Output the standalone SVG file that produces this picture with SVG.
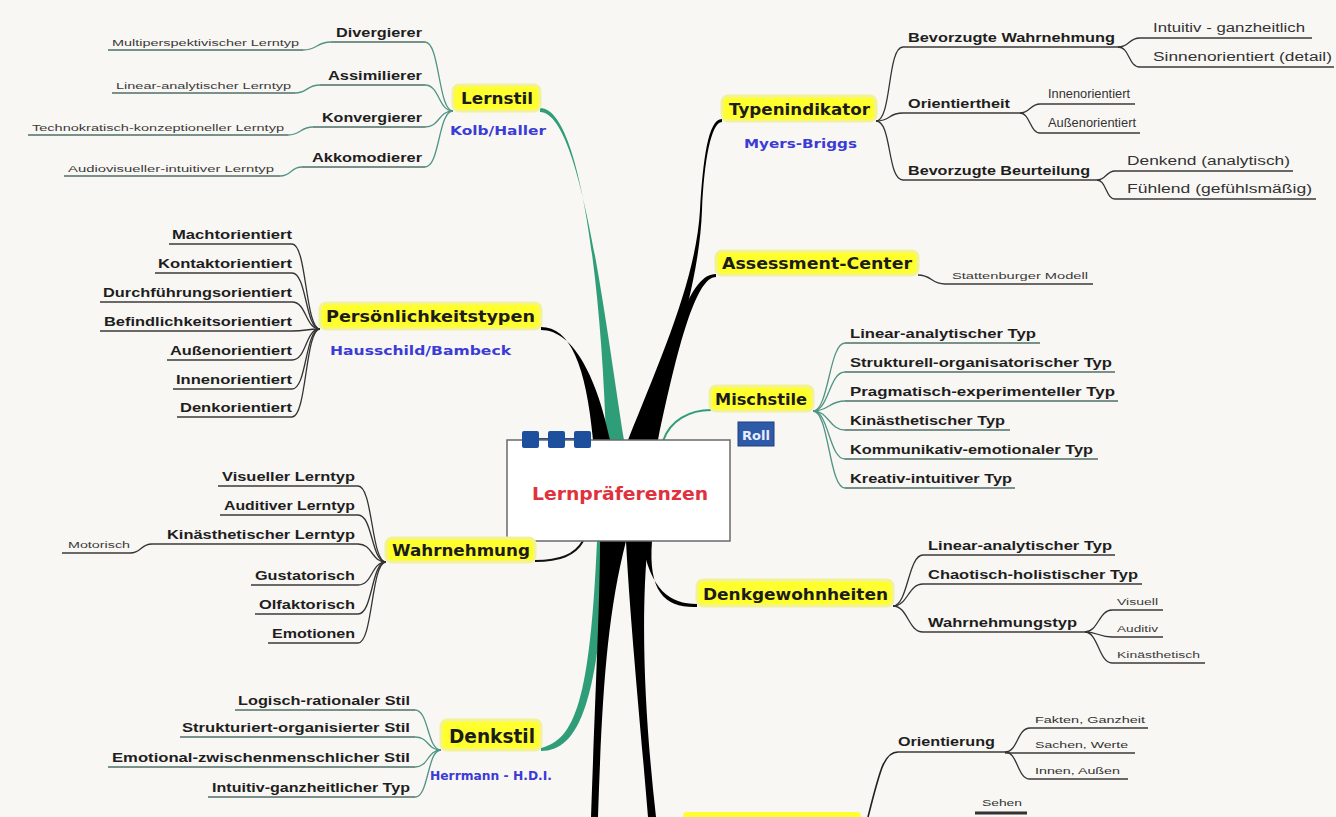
<svg xmlns="http://www.w3.org/2000/svg" width="1336" height="817" viewBox="0 0 1336 817">
<style>
.lbl{font-family:"DejaVu Sans",Verdana,sans-serif;font-weight:bold;fill:#1c1c1c;font-size:16px}
.blue{font-family:"DejaVu Sans",Verdana,sans-serif;font-weight:bold;fill:#3b3bd6;font-size:13px}
.ch{font-family:"Liberation Sans",Arial,sans-serif;font-weight:bold;fill:#1e1e1e;font-size:13.5px}
.gc{font-family:"Liberation Sans",Arial,sans-serif;fill:#333;font-size:12.5px}
.sm{font-family:"Liberation Sans",Arial,sans-serif;fill:#3a3a3a;font-size:8.5px}
.ul{stroke:#3a3a3a;stroke-width:1.6;fill:none}
.ulg{stroke:#4f6f68;stroke-width:1.6;fill:none}
.cn{fill:none;stroke:#333;stroke-width:1.3}
.cng{fill:none;stroke:#4f9484;stroke-width:1.3}
.yl{fill:#ffff2e;stroke:#f2f29a;stroke-width:3}
.blk{fill:#000}
.grn{fill:#2f9e78}
</style>
<rect x="0" y="0" width="1336" height="817" fill="#f9f7f4"/>

<g id="connectors">
  <!-- main branches from the central topic -->
  <path class="grn" d="M540,108 C582,108 602,300 606,440 L624,440 C606,330 582,112 540,112 Z"/>
  <path class="blk" d="M541,327 C570,327 586,365 593,440 L610,440 C598,382 575,330 541,330 Z"/>
  <path class="blk" d="M722,119 C708,119 703,160 700,210 C696,280 660,360 628,440 L648,440 C668,370 699,290 702,210 C704,162 711,122 722,122 Z"/>
  <path class="blk" d="M716,274 C690,274 675,330 640,440 L658,440 C678,345 696,277 716,277 Z"/>
  <path d="M711,410 C690,410 670,420 663,441" fill="none" stroke="#2f9e78" stroke-width="2"/>
  <path d="M535,561 C560,561 575,555 583,541" fill="none" stroke="#111" stroke-width="2"/>
  <path class="grn" d="M541,748 C575,740 590,700 597,541 L607,541 C599,700 580,751 541,751 Z"/>
  <path class="blk" d="M600,541 C600,600 595,700 591,817 L598,817 C602,700 606,620 626,541 Z"/>
  <path class="blk" d="M626,541 C630,620 640,720 648,817 L656,817 C645,720 640,620 648,541 Z"/>
  <path class="blk" d="M642,541 C650,590 670,604 697,604 L697,607 C665,608 648,592 652,541 Z"/>
  <path d="M868,817 C880,770 884,752 898,752" fill="none" stroke="#222" stroke-width="1.6"/>

  <!-- Lernstil -->
  <path class="cng" d="M453,111 C438,111 440,42 425,42"/>
  <path class="cng" d="M453,111 C438,111 440,85 425,85"/>
  <path class="cng" d="M453,111 C438,111 440,127 425,127"/>
  <path class="cng" d="M453,111 C438,111 440,167 425,167"/>
  <path class="cng" d="M331,42 C316,42 318,50 303,50"/>
  <path class="cng" d="M320,85 C306,85 308,93 295,93"/>
  <path class="cng" d="M313,127 C300,127 301,135 288,135"/>
  <path class="cng" d="M302,167 C290,167 292,176 280,176"/>

  <!-- Persoenlichkeitstypen -->
  <path class="cn" d="M320,329 C305,329 307,244 292,244"/>
  <path class="cn" d="M320,329 C305,329 307,273 292,273"/>
  <path class="cn" d="M320,329 C305,329 307,302 292,302"/>
  <path class="cn" d="M320,329 C305,329 307,331 292,331"/>
  <path class="cn" d="M320,329 C305,329 307,360 292,360"/>
  <path class="cn" d="M320,329 C305,329 307,389 292,389"/>
  <path class="cn" d="M320,329 C305,329 307,417 292,417"/>

  <!-- Wahrnehmung -->
  <path class="cn" d="M386,562 C371,562 373,486 358,486"/>
  <path class="cn" d="M386,562 C371,562 373,515 358,515"/>
  <path class="cn" d="M386,562 C371,562 373,544 358,544"/>
  <path class="cn" d="M386,562 C371,562 373,585 358,585"/>
  <path class="cn" d="M386,562 C371,562 373,614 358,614"/>
  <path class="cn" d="M386,562 C371,562 373,643 358,643"/>
  <path class="cn" d="M152,544 C140,544 142,553 130,553"/>

  <!-- Denkstil -->
  <path class="cng" d="M441,750 C427,750 429,710 415,710"/>
  <path class="cng" d="M441,750 C427,750 429,737 415,737"/>
  <path class="cng" d="M441,750 C427,750 429,767 415,767"/>
  <path class="cng" d="M441,750 C427,750 429,797 415,797"/>

  <!-- Typenindikator -->
  <path class="cn" d="M876,121 C892,121 887,47 903,47"/>
  <path class="cn" d="M876,121 C892,121 887,113 903,113"/>
  <path class="cn" d="M876,121 C892,121 887,180 903,180"/>
  <path class="cn" d="M1118,47 C1130,47 1128,38 1140,38"/>
  <path class="cn" d="M1118,47 C1130,47 1128,67 1140,67"/>
  <path class="cn" d="M1020,113 C1030,113 1030,104 1040,104"/>
  <path class="cn" d="M1020,113 C1030,113 1030,133 1040,133"/>
  <path class="cn" d="M1097,180 C1106,180 1106,171 1115,171"/>
  <path class="cn" d="M1097,180 C1106,180 1106,199 1115,199"/>

  <!-- Assessment-Center -->
  <path class="cn" d="M918,275 C932,275 931,284 945,284"/>

  <!-- Mischstile -->
  <path class="cng" d="M813,411 C829,411 829,343 845,343"/>
  <path class="cng" d="M813,411 C829,411 829,372 845,372"/>
  <path class="cng" d="M813,411 C829,411 829,401 845,401"/>
  <path class="cng" d="M813,411 C829,411 829,430 845,430"/>
  <path class="cng" d="M813,411 C829,411 829,459 845,459"/>
  <path class="cng" d="M813,411 C829,411 829,488 845,488"/>

  <!-- Denkgewohnheiten -->
  <path class="cn" d="M893,606 C908,606 908,555 923,555"/>
  <path class="cn" d="M893,606 C908,606 908,584 923,584"/>
  <path class="cn" d="M893,606 C908,606 908,632 923,632"/>
  <path class="cn" d="M1085,632 C1098,632 1099,610 1112,610"/>
  <path class="cn" d="M1085,632 C1098,632 1099,637 1112,637"/>
  <path class="cn" d="M1085,632 C1098,632 1099,663 1112,663"/>

  <!-- Orientierung -->
  <path class="cn" d="M1005,752 C1018,752 1017,728 1030,728"/>
  <path class="cn" d="M1005,752 C1018,752 1017,779 1030,779"/>
</g>

<!-- central topic -->
<g id="center">
  <line x1="531" y1="439" x2="583" y2="439" stroke="#1e4f9c" stroke-width="2"/>
  <rect x="507" y="440" width="223" height="101" fill="#ffffff" stroke="#6a6a6a" stroke-width="1.5"/>
  <rect x="522" y="431" width="17" height="17" rx="2" fill="#1e4f9c"/>
  <rect x="548" y="431" width="17" height="17" rx="2" fill="#1e4f9c"/>
  <rect x="574" y="431" width="17" height="17" rx="2" fill="#1e4f9c"/>
  <text x="532" y="500" textLength="176" lengthAdjust="spacingAndGlyphs" style="font-family:'DejaVu Sans',Verdana,sans-serif;font-weight:bold;font-size:18px;fill:#e0323e">Lernpräferenzen</text>
</g>

<!-- Lernstil -->
<g id="lernstil">
  <rect class="yl" x="453" y="85" width="87" height="26" rx="6"/>
  <text class="lbl" x="461" y="104" textLength="72" lengthAdjust="spacingAndGlyphs">Lernstil</text>
  <text class="blue" x="450" y="135" textLength="96" lengthAdjust="spacingAndGlyphs">Kolb/Haller</text>
</g>
<g id="divergierer"><text class="ch" x="422" y="37" text-anchor="end" textLength="86" lengthAdjust="spacingAndGlyphs" style="font-size:12.5px">Divergierer</text><line class="ulg" x1="331" y1="42" x2="425" y2="42"/></g>
<g id="multiperspektivisch"><text class="sm" x="112" y="46" textLength="187" lengthAdjust="spacingAndGlyphs">Multiperspektivischer Lerntyp</text><line class="ulg" x1="108" y1="50" x2="303" y2="50"/></g>
<g id="assimilierer"><text class="ch" x="422" y="80" text-anchor="end" textLength="94" lengthAdjust="spacingAndGlyphs" style="font-size:12.5px">Assimilierer</text><line class="ulg" x1="320" y1="85" x2="425" y2="85"/></g>
<g id="linear-lerntyp"><text class="sm" x="116" y="89" textLength="175" lengthAdjust="spacingAndGlyphs">Linear-analytischer Lerntyp</text><line class="ulg" x1="112" y1="93" x2="295" y2="93"/></g>
<g id="konvergierer"><text class="ch" x="422" y="122" text-anchor="end" textLength="100" lengthAdjust="spacingAndGlyphs" style="font-size:12.5px">Konvergierer</text><line class="ulg" x1="313" y1="127" x2="425" y2="127"/></g>
<g id="technokratisch"><text class="sm" x="32" y="131" textLength="252" lengthAdjust="spacingAndGlyphs">Technokratisch-konzeptioneller Lerntyp</text><line class="ulg" x1="28" y1="135" x2="288" y2="135"/></g>
<g id="akkomodierer"><text class="ch" x="422" y="162" text-anchor="end" textLength="110" lengthAdjust="spacingAndGlyphs" style="font-size:12.5px">Akkomodierer</text><line class="ulg" x1="302" y1="167" x2="425" y2="167"/></g>
<g id="audiovisuell"><text class="sm" x="68" y="172" textLength="206" lengthAdjust="spacingAndGlyphs">Audiovisueller-intuitiver Lerntyp</text><line class="ulg" x1="64" y1="176" x2="280" y2="176"/></g>

<!-- Persoenlichkeitstypen -->
<g id="persoenlichkeitstypen">
  <rect class="yl" x="320" y="303" width="221" height="26" rx="6"/>
  <text class="lbl" x="326" y="322" textLength="209" lengthAdjust="spacingAndGlyphs">Persönlichkeitstypen</text>
  <text class="blue" x="330" y="355" textLength="181" lengthAdjust="spacingAndGlyphs">Hausschild/Bambeck</text>
</g>
<g id="machtorientiert"><text class="ch" x="292" y="239" text-anchor="end" textLength="120" lengthAdjust="spacingAndGlyphs">Machtorientiert</text><line class="ul" x1="169" y1="244" x2="292" y2="244"/></g>
<g id="kontaktorientiert"><text class="ch" x="292" y="268" text-anchor="end" textLength="134" lengthAdjust="spacingAndGlyphs">Kontaktorientiert</text><line class="ul" x1="155" y1="273" x2="292" y2="273"/></g>
<g id="durchfuehrungsorientiert"><text class="ch" x="292" y="297" text-anchor="end" textLength="189" lengthAdjust="spacingAndGlyphs">Durchführungsorientiert</text><line class="ul" x1="100" y1="302" x2="292" y2="302"/></g>
<g id="befindlichkeitsorientiert"><text class="ch" x="292" y="326" text-anchor="end" textLength="188" lengthAdjust="spacingAndGlyphs">Befindlichkeitsorientiert</text><line class="ul" x1="100" y1="331" x2="292" y2="331"/></g>
<g id="aussenorientiert-p"><text class="ch" x="292" y="355" text-anchor="end" textLength="122" lengthAdjust="spacingAndGlyphs">Außenorientiert</text><line class="ul" x1="167" y1="360" x2="292" y2="360"/></g>
<g id="innenorientiert-p"><text class="ch" x="292" y="384" text-anchor="end" textLength="116" lengthAdjust="spacingAndGlyphs">Innenorientiert</text><line class="ul" x1="173" y1="389" x2="292" y2="389"/></g>
<g id="denkorientiert"><text class="ch" x="292" y="412" text-anchor="end" textLength="112" lengthAdjust="spacingAndGlyphs">Denkorientiert</text><line class="ul" x1="177" y1="417" x2="292" y2="417"/></g>

<!-- Wahrnehmung -->
<g id="wahrnehmung">
  <rect class="yl" x="386" y="538" width="149" height="24" rx="6"/>
  <text class="lbl" x="392" y="556" textLength="138" lengthAdjust="spacingAndGlyphs">Wahrnehmung</text>
</g>
<g id="visuell-lt"><text class="ch" x="355" y="481" text-anchor="end" textLength="133" lengthAdjust="spacingAndGlyphs">Visueller Lerntyp</text><line class="ul" x1="218" y1="486" x2="358" y2="486"/></g>
<g id="auditiv-lt"><text class="ch" x="355" y="510" text-anchor="end" textLength="131" lengthAdjust="spacingAndGlyphs">Auditiver Lerntyp</text><line class="ul" x1="220" y1="515" x2="358" y2="515"/></g>
<g id="kinaesthetisch-lt"><text class="ch" x="355" y="539" text-anchor="end" textLength="188" lengthAdjust="spacingAndGlyphs">Kinästhetischer Lerntyp</text><line class="ul" x1="152" y1="544" x2="358" y2="544"/></g>
<g id="motorisch"><text class="sm" x="68" y="548" textLength="62" lengthAdjust="spacingAndGlyphs">Motorisch</text><line class="ul" x1="62" y1="553" x2="130" y2="553"/></g>
<g id="gustatorisch"><text class="ch" x="355" y="580" text-anchor="end" textLength="100" lengthAdjust="spacingAndGlyphs">Gustatorisch</text><line class="ul" x1="251" y1="585" x2="358" y2="585"/></g>
<g id="olfaktorisch"><text class="ch" x="355" y="609" text-anchor="end" textLength="96" lengthAdjust="spacingAndGlyphs">Olfaktorisch</text><line class="ul" x1="255" y1="614" x2="358" y2="614"/></g>
<g id="emotionen"><text class="ch" x="355" y="638" text-anchor="end" textLength="83" lengthAdjust="spacingAndGlyphs">Emotionen</text><line class="ul" x1="268" y1="643" x2="358" y2="643"/></g>

<!-- Denkstil -->
<g id="denkstil">
  <rect class="yl" x="441" y="720" width="100" height="30" rx="6"/>
  <text class="lbl" x="449" y="743" textLength="86" lengthAdjust="spacingAndGlyphs" style="font-size:19px">Denkstil</text>
  <text class="blue" x="430" y="780" textLength="122" lengthAdjust="spacingAndGlyphs">Herrmann - H.D.I.</text>
</g>
<g id="logisch"><text class="ch" x="410" y="705" text-anchor="end" textLength="172" lengthAdjust="spacingAndGlyphs">Logisch-rationaler Stil</text><line class="ulg" x1="235" y1="710" x2="415" y2="710"/></g>
<g id="strukturiert"><text class="ch" x="410" y="732" text-anchor="end" textLength="228" lengthAdjust="spacingAndGlyphs">Strukturiert-organisierter Stil</text><line class="ulg" x1="180" y1="737" x2="415" y2="737"/></g>
<g id="emotional"><text class="ch" x="410" y="762" text-anchor="end" textLength="298" lengthAdjust="spacingAndGlyphs">Emotional-zwischenmenschlicher Stil</text><line class="ulg" x1="108" y1="767" x2="415" y2="767"/></g>
<g id="intuitiv"><text class="ch" x="410" y="792" text-anchor="end" textLength="198" lengthAdjust="spacingAndGlyphs">Intuitiv-ganzheitlicher Typ</text><line class="ulg" x1="208" y1="797" x2="415" y2="797"/></g>

<!-- Typenindikator -->
<g id="typenindikator">
  <rect class="yl" x="722" y="96" width="154" height="25" rx="6"/>
  <text class="lbl" x="729" y="115" textLength="141" lengthAdjust="spacingAndGlyphs">Typenindikator</text>
  <text class="blue" x="744" y="148" textLength="113" lengthAdjust="spacingAndGlyphs">Myers-Briggs</text>
</g>
<g id="bev-wahrnehmung"><text class="ch" x="908" y="42" textLength="207" lengthAdjust="spacingAndGlyphs" style="font-size:12.5px">Bevorzugte Wahrnehmung</text><line class="ul" x1="903" y1="47" x2="1118" y2="47"/></g>
<g id="intuitiv-ganzheitlich"><text class="gc" x="1153" y="32" textLength="152" lengthAdjust="spacingAndGlyphs">Intuitiv - ganzheitlich</text><line class="ul" x1="1140" y1="38" x2="1312" y2="38"/></g>
<g id="sinnenorientiert"><text class="gc" x="1153" y="61" textLength="179" lengthAdjust="spacingAndGlyphs">Sinnenorientiert (detail)</text><line class="ul" x1="1140" y1="67" x2="1334" y2="67"/></g>
<g id="orientiertheit"><text class="ch" x="908" y="108" textLength="102" lengthAdjust="spacingAndGlyphs" style="font-size:12.5px">Orientiertheit</text><line class="ul" x1="903" y1="113" x2="1020" y2="113"/></g>
<g id="innenorientiert-t"><text class="gc" x="1048" y="98" textLength="82" lengthAdjust="spacingAndGlyphs">Innenorientiert</text><line class="ul" x1="1040" y1="104" x2="1135" y2="104"/></g>
<g id="aussenorientiert-t"><text class="gc" x="1048" y="127" textLength="88" lengthAdjust="spacingAndGlyphs">Außenorientiert</text><line class="ul" x1="1040" y1="133" x2="1140" y2="133"/></g>
<g id="bev-beurteilung"><text class="ch" x="908" y="175" textLength="182" lengthAdjust="spacingAndGlyphs" style="font-size:12.5px">Bevorzugte Beurteilung</text><line class="ul" x1="903" y1="180" x2="1097" y2="180"/></g>
<g id="denkend"><text class="gc" x="1127" y="165" textLength="163" lengthAdjust="spacingAndGlyphs">Denkend (analytisch)</text><line class="ul" x1="1115" y1="171" x2="1293" y2="171"/></g>
<g id="fuehlend"><text class="gc" x="1127" y="193" textLength="185" lengthAdjust="spacingAndGlyphs">Fühlend (gefühlsmäßig)</text><line class="ul" x1="1115" y1="199" x2="1316" y2="199"/></g>

<!-- Assessment-Center -->
<g id="assessment">
  <rect class="yl" x="716" y="251" width="202" height="24" rx="6"/>
  <text class="lbl" x="722" y="269" textLength="190" lengthAdjust="spacingAndGlyphs">Assessment-Center</text>
</g>
<g id="stattenburger"><text class="sm" x="952" y="279" textLength="136" lengthAdjust="spacingAndGlyphs">Stattenburger Modell</text><line class="ul" x1="945" y1="284" x2="1093" y2="284"/></g>

<!-- Mischstile -->
<g id="mischstile">
  <rect class="yl" x="710" y="386" width="103" height="25" rx="6"/>
  <text class="lbl" x="715" y="405" textLength="92" lengthAdjust="spacingAndGlyphs">Mischstile</text>
  <rect x="738" y="422" width="36" height="24" fill="#2f5aa8" stroke="#1e3f80" stroke-width="1"/>
  <text x="742" y="440" textLength="28" lengthAdjust="spacingAndGlyphs" style="font-family:'DejaVu Sans',sans-serif;font-weight:bold;font-size:13px;fill:#e8eeff">Roll</text>
</g>
<g id="linear-m"><text class="ch" x="850" y="338" textLength="186" lengthAdjust="spacingAndGlyphs">Linear-analytischer Typ</text><line class="ulg" x1="845" y1="343" x2="1040" y2="343"/></g>
<g id="strukturell"><text class="ch" x="850" y="367" textLength="262" lengthAdjust="spacingAndGlyphs">Strukturell-organisatorischer Typ</text><line class="ulg" x1="845" y1="372" x2="1115" y2="372"/></g>
<g id="pragmatisch"><text class="ch" x="850" y="396" textLength="265" lengthAdjust="spacingAndGlyphs">Pragmatisch-experimenteller Typ</text><line class="ulg" x1="845" y1="401" x2="1118" y2="401"/></g>
<g id="kinaesthetisch-m"><text class="ch" x="850" y="425" textLength="155" lengthAdjust="spacingAndGlyphs">Kinästhetischer Typ</text><line class="ulg" x1="845" y1="430" x2="1010" y2="430"/></g>
<g id="kommunikativ"><text class="ch" x="850" y="454" textLength="243" lengthAdjust="spacingAndGlyphs">Kommunikativ-emotionaler Typ</text><line class="ulg" x1="845" y1="459" x2="1098" y2="459"/></g>
<g id="kreativ"><text class="ch" x="850" y="483" textLength="162" lengthAdjust="spacingAndGlyphs">Kreativ-intuitiver Typ</text><line class="ulg" x1="845" y1="488" x2="1015" y2="488"/></g>

<!-- Denkgewohnheiten -->
<g id="denkgewohnheiten">
  <rect class="yl" x="697" y="580" width="196" height="26" rx="6"/>
  <text class="lbl" x="703" y="600" textLength="185" lengthAdjust="spacingAndGlyphs">Denkgewohnheiten</text>
</g>
<g id="linear-d"><text class="ch" x="928" y="550" textLength="184" lengthAdjust="spacingAndGlyphs">Linear-analytischer Typ</text><line class="ul" x1="923" y1="555" x2="1115" y2="555"/></g>
<g id="chaotisch"><text class="ch" x="928" y="579" textLength="210" lengthAdjust="spacingAndGlyphs">Chaotisch-holistischer Typ</text><line class="ul" x1="923" y1="584" x2="1142" y2="584"/></g>
<g id="wahrnehmungstyp"><text class="ch" x="928" y="627" textLength="149" lengthAdjust="spacingAndGlyphs">Wahrnehmungstyp</text><line class="ul" x1="923" y1="632" x2="1085" y2="632"/></g>
<g id="visuell"><text class="sm" x="1117" y="605" textLength="41" lengthAdjust="spacingAndGlyphs">Visuell</text><line class="ul" x1="1112" y1="610" x2="1163" y2="610"/></g>
<g id="auditiv"><text class="sm" x="1117" y="632" textLength="41" lengthAdjust="spacingAndGlyphs">Auditiv</text><line class="ul" x1="1112" y1="637" x2="1163" y2="637"/></g>
<g id="kinaesthetisch-d"><text class="sm" x="1117" y="658" textLength="83" lengthAdjust="spacingAndGlyphs">Kinästhetisch</text><line class="ul" x1="1112" y1="663" x2="1205" y2="663"/></g>

<!-- bottom branch (cut off) -->
<g id="bottom-topic">
  <rect x="683" y="812" width="178" height="14" rx="4" fill="#ffff2e"/>
</g>
<g id="orientierung"><text class="ch" x="898" y="746" textLength="97" lengthAdjust="spacingAndGlyphs" style="font-size:12px">Orientierung</text><line class="ul" x1="898" y1="752" x2="1005" y2="752"/></g>
<g id="fakten"><text class="gc" x="1035" y="723" textLength="110" lengthAdjust="spacingAndGlyphs" style="font-size:9.5px">Fakten, Ganzheit</text><line class="ul" x1="1030" y1="728" x2="1148" y2="728"/></g>
<g id="sachen"><text class="gc" x="1035" y="748" textLength="93" lengthAdjust="spacingAndGlyphs" style="font-size:9.5px">Sachen, Werte</text><line class="ul" x1="1005" y1="753" x2="1135" y2="753"/></g>
<g id="innen-aussen"><text class="gc" x="1035" y="774" textLength="85" lengthAdjust="spacingAndGlyphs" style="font-size:9.5px">Innen, Außen</text><line class="ul" x1="1030" y1="779" x2="1128" y2="779"/></g>
<g id="sehen"><text class="gc" x="982" y="806" textLength="40" lengthAdjust="spacingAndGlyphs" style="font-size:9.5px">Sehen</text><line x1="975" y1="813" x2="1027" y2="813" stroke="#333" stroke-width="3"/></g>
</svg>
